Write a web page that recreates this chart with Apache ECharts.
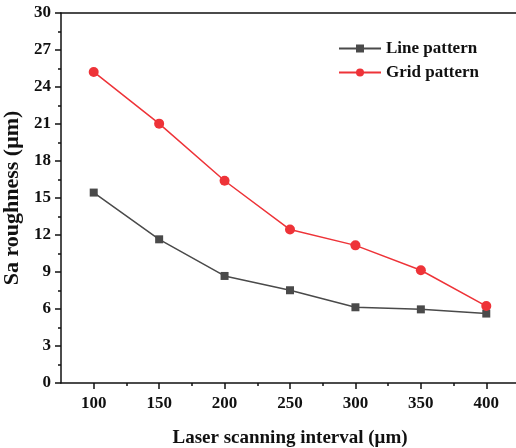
<!DOCTYPE html>
<html>
<head>
<meta charset="utf-8">
<script src="https://cdn.jsdelivr.net/npm/echarts@6/dist/echarts.min.js"></script>
<style>
  html, body { margin: 0; padding: 0; background: #fff; }
  #chart { width: 516px; height: 448px; }
</style>
</head>
<body>
<div id="chart"></div>
<script>
const intervals = [100, 150, 200, 250, 300, 350, 400];
const line_pattern = [15.44, 11.65, 8.68, 7.52, 6.14, 5.97, 5.63];
const grid_pattern = [25.22, 21.03, 16.4, 12.44, 11.16, 9.14, 6.24];
const minor_x = [125, 175, 225, 275, 325, 375];

const font = "'Liberation Serif', 'Times New Roman', serif";
const myChart = echarts.init(document.getElementById("chart"));

const toPairs = (vals) => intervals.map((x, i) => [x, vals[i]]);

let options = {
  animation: false,
  textStyle: { fontFamily: font, color: "#111" },
  legend: {
    data: ["Line pattern", "Grid pattern"],
    orient: "vertical",
    left: 333,
    top: 35,
    itemWidth: 42,
    itemHeight: 10,
    itemGap: 7,
    textStyle: { fontFamily: font, fontSize: 17, fontWeight: "bold", color: "#111" },
  },
  grid: { left: 61, right: -3, top: 13, bottom: 65, outerBoundsMode: "none", containLabel: false },
  xAxis: [
    {
      type: "value",
      min: 75,
      max: 425,
      interval: 25,
      name: "Laser scanning interval (μm)",
      nameLocation: "middle",
      nameGap: 46,
      nameTextStyle: { fontFamily: font, fontSize: 19, fontWeight: "bold", color: "#111" },
      axisLine: { show: true, onZero: false, lineStyle: { color: "#111", width: 1.5 } },
      axisTick: { show: true, length: 6, customValues: intervals, lineStyle: { color: "#111", width: 1.5 } },
      axisLabel: {
        customValues: intervals,
        margin: 12,
        fontFamily: font,
        fontSize: 17,
        fontWeight: "bold",
        color: "#111",
      },
      splitLine: { show: false },
    },
    {
      type: "value",
      position: "bottom",
      min: 75,
      max: 425,
      interval: 25,
      axisLine: { show: false, onZero: false },
      axisTick: { show: true, length: 3, customValues: minor_x, lineStyle: { color: "#111", width: 1.5 } },
      axisLabel: { show: false },
      splitLine: { show: false },
    },
    {
      type: "value",
      position: "top",
      min: 75,
      max: 425,
      axisLine: { show: true, onZero: false, lineStyle: { color: "#111", width: 1.5 } },
      axisTick: { show: false },
      axisLabel: { show: false },
      splitLine: { show: false },
    },
  ],
  yAxis: {
    type: "value",
    min: 0,
    max: 30,
    interval: 3,
    name: "Sa roughness (μm)",
    nameLocation: "middle",
    nameGap: 30,
    nameTextStyle: { fontFamily: font, fontSize: 22, fontWeight: "bold", color: "#111" },
    axisLine: { show: true, lineStyle: { color: "#111", width: 1.5 } },
    axisTick: { show: true, length: 6, lineStyle: { color: "#111", width: 1.5 } },
    minorTick: { show: true, splitNumber: 2, length: 3, lineStyle: { color: "#111", width: 1.5 } },
    axisLabel: { margin: 10, fontFamily: font, fontSize: 17, fontWeight: "bold", color: "#111" },
    splitLine: { show: false },
  },
  series: [
    {
      name: "Line pattern",
      type: "line",
      data: toPairs(line_pattern),
      symbol: "rect",
      symbolSize: 8,
      color: "#4a4a4a",
      lineStyle: { color: "#4a4a4a", width: 1.5 },
      itemStyle: { color: "#4a4a4a" },
    },
    {
      name: "Grid pattern",
      type: "line",
      data: toPairs(grid_pattern),
      symbol: "circle",
      symbolSize: 10,
      color: "#ee3338",
      lineStyle: { color: "#ee3338", width: 1.5 },
      itemStyle: { color: "#ee3338" },
    },
  ],
};

myChart.setOption(options);
</script>
</body>
</html>
